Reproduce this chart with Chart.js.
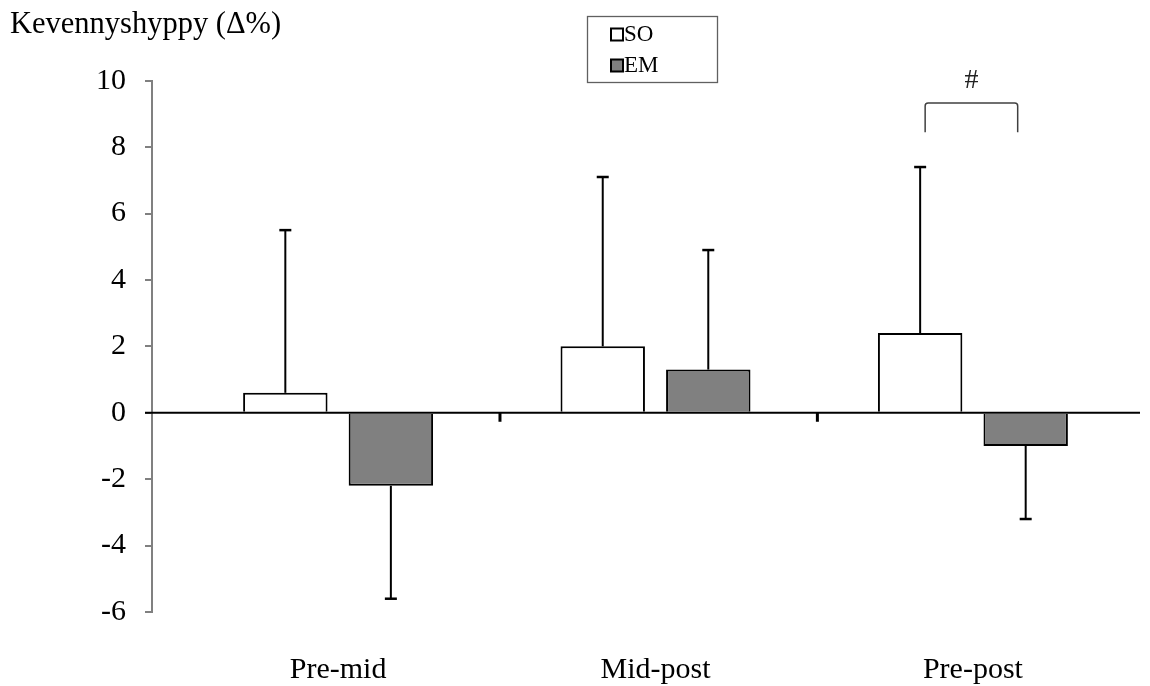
<!DOCTYPE html>
<html><head><meta charset="utf-8">
<script src="https://cdn.jsdelivr.net/npm/chart.js@4.4.1/dist/chart.umd.min.js"></script>
<style>html,body{margin:0;padding:0;background:#fff;} canvas{display:block;}</style>
</head><body>
<canvas id="c" width="1150" height="686"></canvas>
<script>
// ---- data ----
const categories = ['Pre-mid', 'Mid-post', 'Pre-post'];
const seriesNames = ['SO', 'EM'];
const soMeans = [0.6, 2.0, 2.4];
const emMeans = [-2.2, 1.3, -1.0];
const soSD = [4.9, 5.1, 5.0];
const emSD = [3.4, 3.6, 2.2];
const yTicks = [-6, -4, -2, 0, 2, 4, 6, 8, 10];
const yTitle = 'Kevennyshyppy (Δ%)';
const sigCategory = 2;
const sigMark = '#';

const FONT = '"Liberation Serif", "Times New Roman", serif';
Chart.defaults.font.family = FONT;
Chart.defaults.color = '#000';

const errorBarsPlugin = {
  id: 'errorBars',
  afterDatasetsDraw(chart) {
    const ctx = chart.ctx, ys = chart.scales.y;
    ctx.save();
    ctx.strokeStyle = '#000';
    chart.data.datasets.forEach((ds, di) => {
      const meta = chart.getDatasetMeta(di);
      meta.data.forEach((bar, i) => {
        const v = ds.data[i].y, sd = ds.errors[i];
        const end = v >= 0 ? v + sd : v - sd;
        const yA = ys.getPixelForValue(v), yB = ys.getPixelForValue(end);
        ctx.lineWidth = 2;
        ctx.beginPath(); ctx.moveTo(bar.x, yA); ctx.lineTo(bar.x, yB); ctx.stroke();
        ctx.lineWidth = 2.5;
        ctx.beginPath(); ctx.moveTo(bar.x - 6, yB); ctx.lineTo(bar.x + 6, yB); ctx.stroke();
      });
    });
    // zero axis line and category separators
    const y0 = ys.getPixelForValue(0);
    const xs = chart.scales.x, ca = chart.chartArea;
    ctx.lineWidth = 2;
    ctx.beginPath(); ctx.moveTo(ca.left - 7, y0); ctx.lineTo(ca.right, y0); ctx.stroke();
    ctx.lineWidth = 3;
    for (let i = 0; i < categories.length - 1; i++) {
      const x = xs.getPixelForValue(i + 0.51);
      ctx.beginPath(); ctx.moveTo(x, y0); ctx.lineTo(x, y0 + 9); ctx.stroke();
    }
    // significance bracket
    const xl = chart.getDatasetMeta(0).data[sigCategory].x + 5;
    const xr = chart.getDatasetMeta(1).data[sigCategory].x - 8;
    const yt = ys.getPixelForValue(9.33), yb = ys.getPixelForValue(8.45);
    ctx.strokeStyle = '#404040'; ctx.lineWidth = 1.5;
    ctx.beginPath();
    ctx.moveTo(xl, yb); ctx.lineTo(xl, yt + 3); ctx.quadraticCurveTo(xl, yt, xl + 3, yt);
    ctx.lineTo(xr - 3, yt); ctx.quadraticCurveTo(xr, yt, xr, yt + 3); ctx.lineTo(xr, yb);
    ctx.stroke();
    ctx.fillStyle = '#222'; ctx.font = '28px ' + FONT; ctx.textAlign = 'center'; ctx.textBaseline = 'alphabetic';
    ctx.fillText(sigMark, (xl + xr) / 2, ys.getPixelForValue(9.78));
    ctx.restore();
  }
};

const decorPlugin = {
  id: 'decor',
  afterDraw(chart) {
    const ctx = chart.ctx;
    ctx.save();
    // y title
    ctx.fillStyle = '#000'; ctx.font = '30.5px ' + FONT; ctx.textAlign = 'left'; ctx.textBaseline = 'alphabetic';
    ctx.fillText(yTitle, 10, 33);
    // legend box
    ctx.strokeStyle = '#606060'; ctx.lineWidth = 1.3;
    ctx.strokeRect(587.5, 16.5, 130, 66);
    chart.data.datasets.forEach((ds, i) => {
      const y = 28.5 + i * 31;
      ctx.fillStyle = ds.backgroundColor; ctx.fillRect(611, y, 12, 12);
      ctx.strokeStyle = '#000'; ctx.lineWidth = 2; ctx.strokeRect(611, y, 12, 12);
      ctx.fillStyle = '#000'; ctx.font = '23px ' + FONT; ctx.textAlign = 'left';
      ctx.fillText(ds.label, 624, y + 12.5);
    });
    ctx.restore();
  }
};

const mk = (vals) => categories.map((c, i) => ({ x: i, y: vals[i] }));

new Chart(document.getElementById('c').getContext('2d'), {
  type: 'bar',
  data: {
    datasets: [
      { label: seriesNames[0], data: mk(soMeans), errors: soSD, backgroundColor: '#ffffff', borderColor: '#000', borderWidth: 2, borderSkipped: 'start', categoryPercentage: 0.665, barPercentage: 0.8 },
      { label: seriesNames[1], data: mk(emMeans), errors: emSD, backgroundColor: '#808080', borderColor: '#000', borderWidth: 2, borderSkipped: 'start', categoryPercentage: 0.665, barPercentage: 0.8 }
    ]
  },
  options: {
    responsive: false, animation: false,
    layout: { padding: { left: 0, top: 80.7, right: 10, bottom: 0 } },
    plugins: { legend: { display: false }, tooltip: { enabled: false } },
    scales: {
      x: {
        type: 'linear', min: -0.5863, max: 2.5264, offset: false,
        grid: { display: false }, border: { display: false },
        afterBuildTicks: s => { s.ticks = categories.map((c, i) => ({ value: i })); },
        afterFit: s => { s.height = 74; },
        ticks: { callback: v => categories[v] ?? '', font: { size: 30 }, padding: 32, maxRotation: 0, autoSkip: false }
      },
      y: {
        min: -6, max: 10,
        afterBuildTicks: s => { s.ticks = yTicks.map(v => ({ value: v })); },
        afterFit: s => { s.width = 152; },
        grid: { drawOnChartArea: false, drawTicks: true, tickLength: 7, color: '#808080', lineWidth: 2 },
        border: { display: true, color: '#808080', width: 2 },
        ticks: { callback: v => String(v), font: { size: 30 }, padding: 19 }
      }
    }
  },
  plugins: [errorBarsPlugin, decorPlugin]
});
</script>
</body></html>
